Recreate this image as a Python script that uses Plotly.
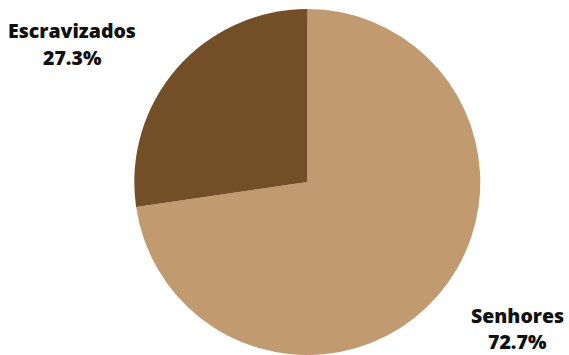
import plotly.graph_objects as go

labels = ["Senhores", "Escravizados"]
values = [72.7, 27.3]
colors = ["#C19A6F", "#734F28"]

W, H = 569, 355
cx, cy, r = 307.3, 182.0, 173.0

fig = go.Figure(go.Pie(
    labels=labels, values=values, sort=False, direction="clockwise", rotation=0,
    marker=dict(colors=colors, line=dict(width=0)),
    textinfo="none", hoverinfo="label+percent", showlegend=False,
    domain=dict(x=[(cx - r) / W, (cx + r) / W], y=[max(0, (H - cy - r) / H), 1 - (cy - r) / H]),
))

font = dict(family="Open Sans, Noto Sans, sans-serif", size=19.5, color="#111111", weight=800)

def add_label(name, pct, x, y1, y2):
    fig.add_annotation(x=x / W, y=1 - y1 / H, xref="paper", yref="paper",
                       text=name, showarrow=False, font=font, xanchor="center", yanchor="middle")
    fig.add_annotation(x=x / W, y=1 - y2 / H, xref="paper", yref="paper",
                       text=pct, showarrow=False, font=font, xanchor="center", yanchor="middle")

add_label(labels[1], f"{values[1]}%", 72, 30, 57)
add_label(labels[0], f"{values[0]}%", 517, 315, 341)

fig.update_layout(width=W, height=H, margin=dict(l=0, r=0, t=0, b=0),
                  paper_bgcolor="white", plot_bgcolor="white")
fig.write_html("out.html", config={"displayModeBar": False},
               post_script="document.body.style.margin='0';document.body.style.overflow='hidden';")
